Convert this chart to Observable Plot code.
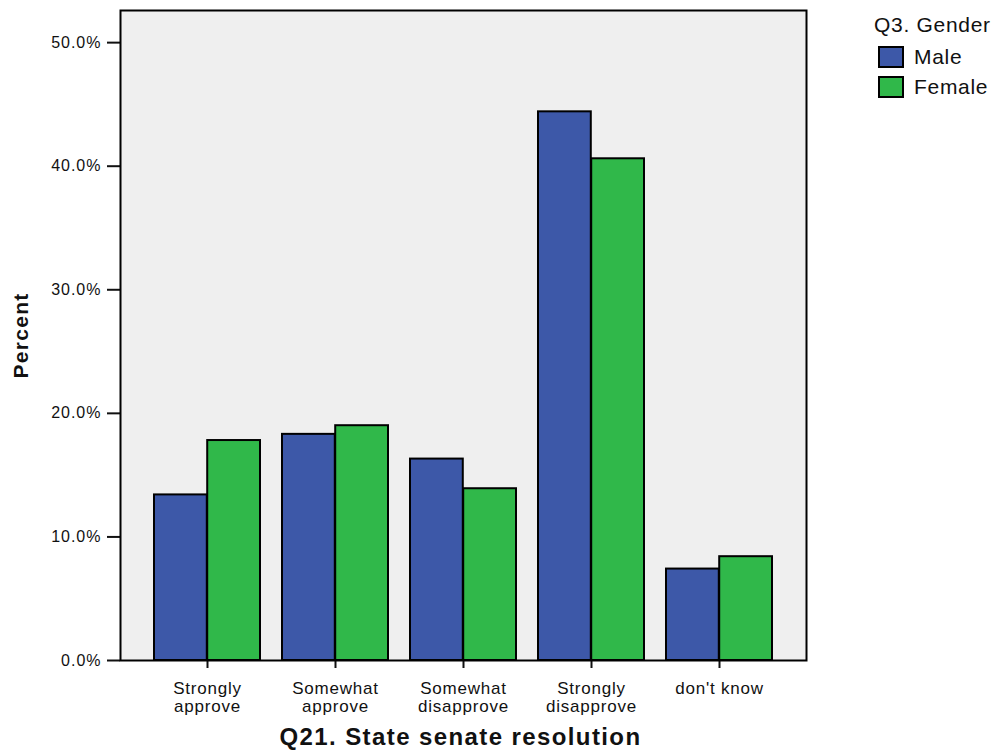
<!DOCTYPE html>
<html><head><meta charset="utf-8">
<script src="https://cdn.jsdelivr.net/npm/d3@7"></script>
<script src="https://cdn.jsdelivr.net/npm/@observablehq/plot@0.6"></script>
<style>
body{margin:0;background:#fff;font-family:"Liberation Sans",Arial,sans-serif}
#wrap{position:relative;width:1000px;height:753px;overflow:hidden}
#legend{position:absolute;left:874px;top:13px;font-size:21px;color:#111;letter-spacing:0.7px}
#legend .title{margin-bottom:5px;line-height:24px}
#legend .item{display:flex;align-items:center;height:30px}
#legend .sw{width:22px;height:18px;border:2px solid #000;margin-left:4px;margin-right:10px;box-sizing:content-box}
g[aria-label="x-axis tick label"] text{letter-spacing:0.8px}
g[aria-label="y-axis tick label"] text{letter-spacing:1px}
g.ytitle text{letter-spacing:1.3px}
g.xtitle text{letter-spacing:1.4px}
</style></head><body>
<div id="wrap"><div id="chart"></div><div id="legend"></div></div>
<script>
const categories = ["Strongly\napprove","Somewhat\napprove","Somewhat\ndisapprove","Strongly\ndisapprove","don't know"];
const genders = ["Male","Female"];
const maleValues = [13.4,18.3,16.3,44.4,7.4];
const femaleValues = [17.8,19.0,13.9,40.6,8.4];
const genderColors = ["#3d58a8","#30b84a"];
const yTicks = [0,10,20,30,40,50];
const legendTitle = "Q3. Gender";
const xTitle = "Q21. State senate resolution";
const yTitle = "Percent";

const maleRows = categories.map((c,i)=>({category:c, gender:"Male", value:maleValues[i]}));
const femaleRows = categories.map((c,i)=>({category:c, gender:"Female", value:femaleValues[i]}));

const W = 1000, H = 753, mL = 120, mR = 194, mT = 10, mB = 93;
const pInner = 0.17, pOuter = 0.26;
const step = (W - mL - mR) / (categories.length - pInner + 2*pOuter);
const half = step * (1 - pInner) / 2;

const chart = Plot.plot({
  width: W, height: H,
  marginLeft: mL, marginRight: mR, marginTop: mT, marginBottom: mB,
  style: {fontFamily: "Liberation Sans, Arial, sans-serif", background: "#fff", color: "#111"},
  x: {domain: categories, paddingInner: pInner, paddingOuter: pOuter},
  y: {domain: [0, 52.6]},
  color: {domain: genders, range: genderColors},
  marks: [
    Plot.frame({fill: "#efefef"}),
    Plot.barY(maleRows, {x: "category", y: "value", fill: "gender", stroke: "#000", strokeWidth: 2, insetRight: half}),
    Plot.barY(femaleRows, {x: "category", y: "value", fill: "gender", stroke: "#000", strokeWidth: 2, insetLeft: half}),
    Plot.axisY({ticks: yTicks, tickSize: 13, tickPadding: 6, strokeWidth: 2, fontSize: 16, label: null,
      tickFormat: d => d.toFixed(1) + "%"}),
    Plot.axisX({tickSize: 8, tickPadding: 12, strokeWidth: 2, fontSize: 17, lineHeight: 1.08, label: null}),
    Plot.text([yTitle], {text: d => d, frameAnchor: "left", textAnchor: "middle", dx: -99, rotate: -90,
      fontSize: 21, fontWeight: "bold", className: "ytitle"}),
    Plot.text([xTitle], {text: d => d, frameAnchor: "bottom", dy: 84, dx: -3, fontSize: 24, fontWeight: "bold",
      className: "xtitle"}),
    Plot.frame({stroke: "#000", strokeWidth: 2})
  ]
});
document.getElementById("chart").append(chart);

const lg = document.getElementById("legend");
const t = document.createElement("div"); t.className = "title"; t.textContent = legendTitle; lg.append(t);
genders.forEach((g,i)=>{
  const it = document.createElement("div"); it.className = "item";
  const sw = document.createElement("span"); sw.className = "sw"; sw.style.background = genderColors[i];
  const lb = document.createElement("span"); lb.textContent = g;
  it.append(sw, lb); lg.append(it);
});
</script>
</body></html>
